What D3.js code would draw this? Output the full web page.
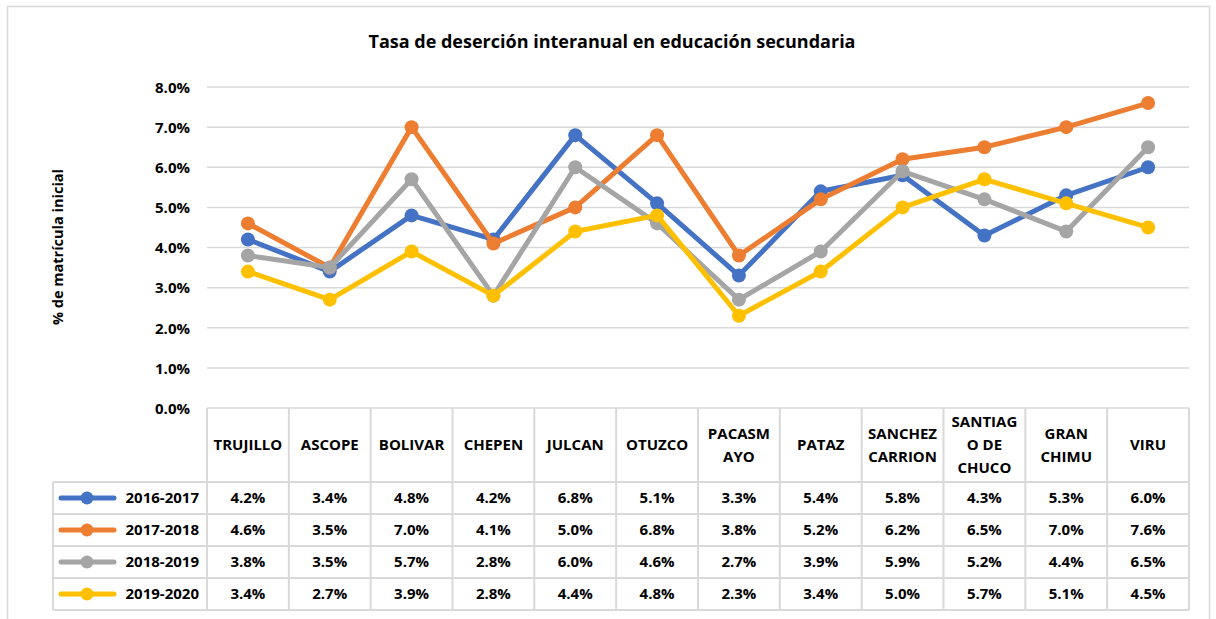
<!DOCTYPE html>
<html>
<head>
<meta charset="utf-8">
<script src="https://cdn.jsdelivr.net/npm/d3@7"></script>
<style>
  body { margin: 0; background: #fff; overflow: hidden; }
  svg { display: block; }
  text { font-family: "Open Sans", "Noto Sans", sans-serif; font-weight: bold; fill: #000; }
</style>
</head>
<body>
<div id="root"></div>
<script>
const categories = ['TRUJILLO', 'ASCOPE', 'BOLIVAR', 'CHEPEN', 'JULCAN', 'OTUZCO', 'PACASMAYO',
  'PATAZ', 'SANCHEZ CARRION', 'SANTIAGO DE CHUCO', 'GRAN CHIMU', 'VIRU'];
const headerLines = [['TRUJILLO'], ['ASCOPE'], ['BOLIVAR'], ['CHEPEN'], ['JULCAN'], ['OTUZCO'],
  ['PACASM', 'AYO'], ['PATAZ'], ['SANCHEZ', 'CARRION'], ['SANTIAG', 'O DE', 'CHUCO'], ['GRAN', 'CHIMU'], ['VIRU']];
const seriesNames = ['2016-2017', '2017-2018', '2018-2019', '2019-2020'];
const s2016 = [4.2, 3.4, 4.8, 4.2, 6.8, 5.1, 3.3, 5.4, 5.8, 4.3, 5.3, 6.0];
const s2017 = [4.6, 3.5, 7.0, 4.1, 5.0, 6.8, 3.8, 5.2, 6.2, 6.5, 7.0, 7.6];
const s2018 = [3.8, 3.5, 5.7, 2.8, 6.0, 4.6, 2.7, 3.9, 5.9, 5.2, 4.4, 6.5];
const s2019 = [3.4, 2.7, 3.9, 2.8, 4.4, 4.8, 2.3, 3.4, 5.0, 5.7, 5.1, 4.5];
const yTicks = [0, 1, 2, 3, 4, 5, 6, 7, 8];
const colors = ['#4472C4', '#ED7D31', '#A5A5A5', '#FFC000'];
const series = [s2016, s2017, s2018, s2019];

const W = 1216, H = 619;
const svg = d3.select('#root').append('svg').attr('width', W).attr('height', H);

// chart frame
svg.append('rect').attr('x', 7.5).attr('y', 6.5).attr('width', 1202).attr('height', 640)
  .attr('fill', 'none').attr('stroke', '#D9D9D9').attr('stroke-width', 1.5);

const plotL = 207, plotR = 1189, plotT = 87, plotB = 408;
const x = d3.scaleBand().domain(categories).range([plotL, plotR]);
const y = d3.scaleLinear().domain([0, 8]).range([plotB, plotT]);
const cxOf = i => x(categories[i]) + x.bandwidth() / 2;
const fs = '15px';

svg.append('text').attr('x', 612).attr('y', 48).attr('text-anchor', 'middle')
  .style('font-size', '18px').text('Tasa de deserción interanual en educación secundaria');

// gridlines
svg.append('g').selectAll('line').data(yTicks).join('line')
  .attr('x1', plotL).attr('x2', plotR)
  .attr('y1', d => y(d)).attr('y2', d => y(d))
  .attr('stroke', '#D9D9D9').attr('stroke-width', 1.5);

// y axis
const yAxis = svg.append('g').attr('transform', `translate(${plotL - 17},0)`)
  .call(d3.axisLeft(y).tickValues(yTicks).tickFormat(d => d.toFixed(1) + '%').tickSize(0).tickPadding(0));
yAxis.select('.domain').remove();
yAxis.selectAll('text').style('font-size', fs).attr('dy', '0.35em')
  .attr('font-family', null).style('fill', '#000');

svg.append('text').attr('transform', 'translate(63,247) rotate(-90)').attr('text-anchor', 'middle')
  .style('font-size', '14.5px').text('% de matrícula inicial');

// lines
const line = d3.line().x((d, i) => cxOf(i)).y(d => y(d));
series.forEach((s, k) => {
  const g = svg.append('g');
  g.append('path').datum(s).attr('d', line).attr('fill', 'none')
    .attr('stroke', colors[k]).attr('stroke-width', 5).attr('stroke-linejoin', 'round');
  g.selectAll('circle').data(s).join('circle')
    .attr('cx', (d, i) => cxOf(i)).attr('cy', d => y(d))
    .attr('r', 7).attr('fill', colors[k]);
});

// data table
const headBottom = 482, rowH = 32, legLeft = 53;
const tbl = svg.append('g').attr('stroke', '#D9D9D9').attr('stroke-width', 2);
const colEdges = categories.map(c => x(c)).concat([plotR]);
tbl.selectAll('.v').data(colEdges).join('line')
  .attr('x1', d => d).attr('x2', d => d).attr('y1', plotB).attr('y2', headBottom + rowH * 4);
tbl.append('line').attr('x1', legLeft).attr('x2', legLeft).attr('y1', headBottom).attr('y2', headBottom + rowH * 4);
tbl.selectAll('.h').data(d3.range(5)).join('line')
  .attr('x1', legLeft).attr('x2', plotR)
  .attr('y1', d => headBottom + d * rowH).attr('y2', d => headBottom + d * rowH);

// header labels
headerLines.forEach((lines, i) => {
  const cy = (plotB + headBottom) / 2;
  const lh = 23;
  const t = svg.append('text').attr('text-anchor', 'middle').style('font-size', fs);
  lines.forEach((ln, j) => {
    t.append('tspan').attr('x', cxOf(i)).attr('y', cy + (j - (lines.length - 1) / 2) * lh).attr('dy', '0.35em').text(ln);
  });
});

// rows
series.forEach((s, k) => {
  const cy = headBottom + k * rowH + rowH / 2;
  svg.append('line').attr('x1', 61).attr('x2', 114).attr('y1', cy).attr('y2', cy)
    .attr('stroke', colors[k]).attr('stroke-width', 5).attr('stroke-linecap', 'round');
  svg.append('circle').attr('cx', 87).attr('cy', cy).attr('r', 6.5).attr('fill', colors[k]);
  svg.append('text').attr('x', 199).attr('y', cy).attr('dy', '0.35em').attr('text-anchor', 'end')
    .style('font-size', fs).text(seriesNames[k]);
  svg.append('g').selectAll('text').data(s).join('text')
    .attr('x', (d, i) => cxOf(i)).attr('y', cy).attr('dy', '0.35em')
    .attr('text-anchor', 'middle').style('font-size', fs).text(d => d.toFixed(1) + '%');
});
</script>
</body>
</html>
